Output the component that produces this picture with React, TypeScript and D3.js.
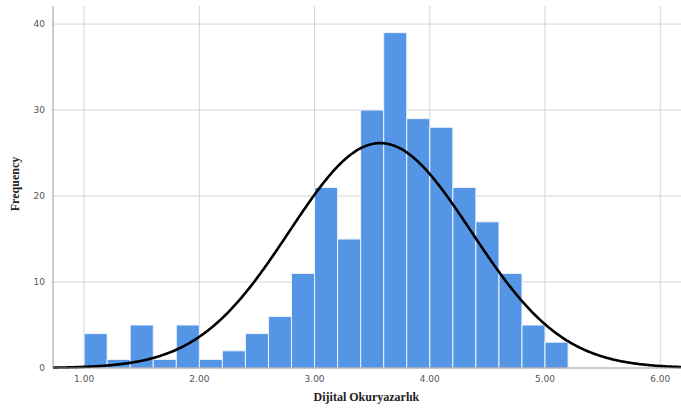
import * as d3 from 'd3'

// bin start values (width 0.2) and their frequencies
const binStarts = [1.0, 1.2, 1.4, 1.6, 1.8, 2.0, 2.2, 2.4, 2.6, 2.8, 3.0, 3.2, 3.4, 3.6, 3.8, 4.0, 4.2, 4.4, 4.6, 4.8, 5.0]
const counts = [4, 1, 5, 1, 5, 1, 2, 4, 6, 11, 21, 15, 30, 39, 29, 28, 21, 17, 11, 5, 3]
const binWidth = 0.2

// fitted normal curve parameters
const mean = 3.57
const sd = 0.79

const xTicks = [1, 2, 3, 4, 5, 6]
const yTicks = [0, 10, 20, 30, 40]

export default function App() {
  const width = 681
  const height = 414
  const margin = { top: 6, right: 0, bottom: 46, left: 53 }
  const innerW = width - margin.left - margin.right
  const innerH = height - margin.top - margin.bottom

  const x = d3.scaleLinear().domain([0.73, 6.18]).range([0, innerW])
  const y = d3.scaleLinear().domain([0, 42.1]).range([innerH, 0])

  const n = d3.sum(counts)
  const peak = (n * binWidth) / (sd * Math.sqrt(2 * Math.PI))
  const curvePts = d3.range(0.73, 6.181, 0.01).map((v) => [v, peak * Math.exp(-0.5 * ((v - mean) / sd) ** 2)] as [number, number])
  const line = d3
    .line<[number, number]>()
    .x((d) => x(d[0]))
    .y((d) => y(d[1]))
    .curve(d3.curveBasis)

  return (
    <svg width={width} height={height} style={{ position: 'absolute', left: 0, top: 0, background: '#fff' }}>
      <g transform={`translate(${margin.left},${margin.top})`}>
        {yTicks.slice(1).map((t) => (
          <line key={'gy' + t} x1={0} x2={innerW} y1={y(t)} y2={y(t)} stroke="#d4d4d4" strokeWidth={1} />
        ))}
        {xTicks.map((t) => (
          <line key={'gx' + t} x1={x(t)} x2={x(t)} y1={0} y2={innerH} stroke="#d4d4d4" strokeWidth={1} />
        ))}
        {counts.map((c, i) => (
          <rect
            key={i}
            x={x(binStarts[i])}
            y={y(c)}
            width={x(binStarts[i] + binWidth) - x(binStarts[i])}
            height={innerH - y(c)}
            fill="#5595e5"
            stroke="#eef3fb"
            strokeWidth={1}
          />
        ))}
        <path d={line(curvePts) ?? undefined} fill="none" stroke="#000" strokeWidth={2.6} />
        <line x1={0} x2={0} y1={0} y2={innerH} stroke="#999" />
        <line x1={0} x2={innerW} y1={innerH} y2={innerH} stroke="#999" />
        {yTicks.map((t) => (
          <text key={'ty' + t} x={-8} y={y(t)} dy="0.35em" textAnchor="end" fontSize={9} fill="#555" fontFamily="'DejaVu Sans', sans-serif">
            {t}
          </text>
        ))}
        {xTicks.map((t) => (
          <text key={'tx' + t} x={x(t)} y={innerH + 14} textAnchor="middle" fontSize={9} fill="#555" fontFamily="'DejaVu Sans', sans-serif">
            {t.toFixed(2)}
          </text>
        ))}
        <text x={x(3.45)} y={innerH + 33} textAnchor="middle" fontSize={12} fontWeight="bold" fontFamily="'Liberation Serif', serif" fill="#222">
          Dijital Okuryazarlık
        </text>
        <text transform={`translate(${-34},${innerH / 2 - 3}) rotate(-90)`} textAnchor="middle" fontSize={12} fontWeight="bold" fontFamily="'Liberation Serif', serif" fill="#222">
          Frequency
        </text>
      </g>
    </svg>
  )
}
